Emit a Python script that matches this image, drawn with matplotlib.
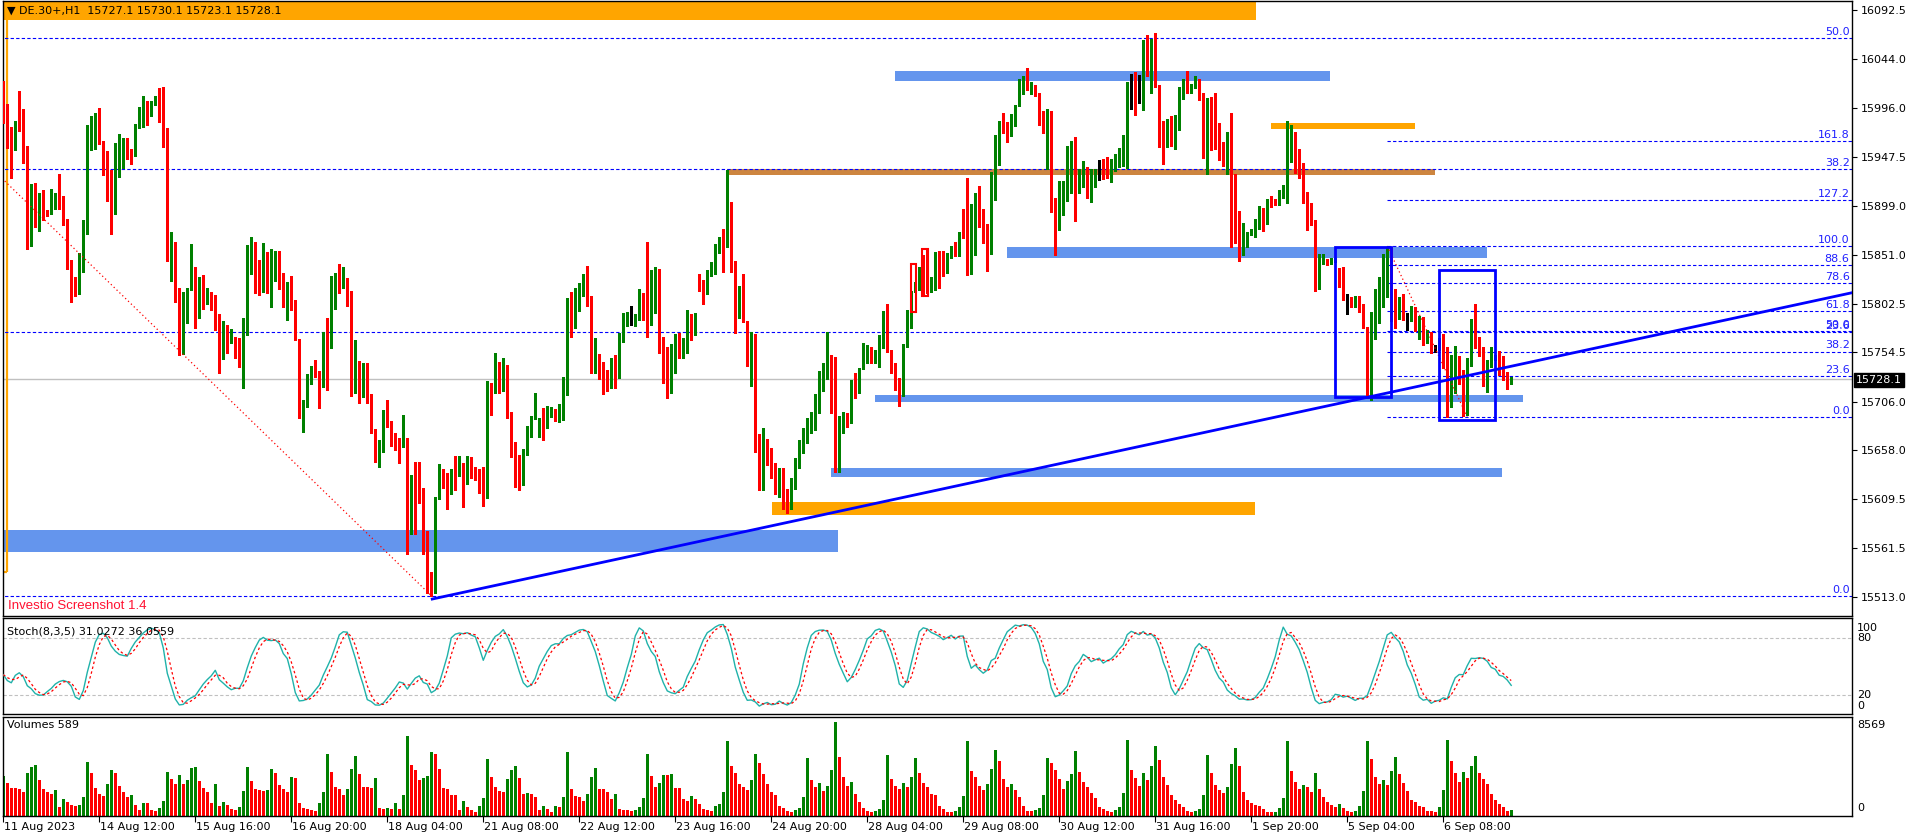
import numpy as np
import matplotlib
matplotlib.use("Agg")
import matplotlib.pyplot as plt
from matplotlib.patches import Rectangle

plt.rcParams['font.family'] = ['DejaVu Sans']

# ---------------- data ----------------
symbol_text = "\u25BC DE.30+,H1  15727.1 15730.1 15723.1 15728.1"
stoch_text = "Stoch(8,3,5) 31.0272 36.0559"
volume_text = "Volumes 589"
watermark = "Investio Screenshot 1.4"

time_labels = ["11 Aug 2023", "14 Aug 12:00", "15 Aug 16:00", "16 Aug 20:00", "18 Aug 04:00",
               "21 Aug 08:00", "22 Aug 12:00", "23 Aug 16:00", "24 Aug 20:00", "28 Aug 04:00",
               "29 Aug 08:00", "30 Aug 12:00", "31 Aug 16:00", "1 Sep 20:00", "5 Sep 04:00",
               "6 Sep 08:00"]
bars_per_label = 24

price_ticks = [16092.5, 16044.0, 15996.0, 15947.5, 15899.0, 15851.0, 15802.5,
               15754.5, 15706.0, 15658.0, 15609.5, 15561.5, 15513.0]
last_price = 15728.1
vol_max_label = 8569

first_open = 16012.7
closes = [
    15998.2, 15977.4, 15955.6, 15981.6, 15976.4, 15948.7, 15864.9, 15887.4, 15893.6, 15907.8,
    15892.6, 15891.8, 15906.1, 15911.3, 15899.5, 15882.2, 15843.1, 15828.5, 15812.6, 15841.0,
    15878.4, 15962.2, 15971.2, 15973.9, 15961.5, 15944.5, 15934.5, 15903.3, 15951.4, 15957.3,
    15959.4, 15952.5, 15951.1, 15979.1, 15985.0, 15999.9, 15987.8, 15999.9, 16003.7, 15996.8,
    15957.3, 15848.6, 15863.1, 15812.9, 15782.8, 15786.6, 15818.1, 15834.7, 15788.7, 15827.1,
    15806.3, 15807.7, 15805.3, 15787.6, 15758.2, 15766.2, 15765.1, 15767.6, 15753.0, 15744.7,
    15784.2, 15834.0, 15845.8, 15832.7, 15831.3, 15849.7, 15818.4, 15842.4, 15849.7, 15825.0,
    15810.5, 15815.0, 15805.6, 15767.7, 15697.0, 15706.6, 15730.6, 15740.1, 15734.5, 15722.3,
    15772.7, 15765.0, 15803.3, 15826.0, 15822.0, 15828.3, 15811.0, 15724.3, 15743.0, 15719.7,
    15742.4, 15711.8, 15678.3, 15657.5, 15658.2, 15695.0, 15683.9, 15672.0, 15668.0, 15661.5,
    15669.7, 15581.5, 15631.9, 15630.9, 15616.0, 15561.1, 15538.1, 15528.2, 15611.1, 15631.9,
    15627.0, 15621.0, 15629.6, 15622.6, 15645.0, 15627.6, 15646.0, 15635.8, 15629.2, 15621.0,
    15618.7, 15723.3, 15720.7, 15737.8, 15719.7, 15736.0, 15696.0, 15666.4, 15644.4, 15625.3,
    15659.2, 15674.6, 15689.5, 15694.4, 15687.8, 15683.9, 15695.4, 15698.3, 15692.0, 15700.3,
    15728.9, 15793.0, 15792.4, 15796.4, 15811.2, 15825.0, 15807.2, 15740.5, 15747.0, 15734.5,
    15733.9, 15726.3, 15742.1, 15730.6, 15770.0, 15785.5, 15788.2, 15787.9, 15791.4, 15812.8,
    15793.8, 15784.2, 15805.3, 15823.4, 15769.0, 15752.0, 15719.7, 15751.0, 15770.0, 15755.3,
    15757.9, 15790.8, 15776.6, 15781.6, 15818.4, 15813.5, 15834.9, 15835.9, 15860.5, 15866.5,
    15859.5, 15875.3, 15836.8, 15792.4, 15809.5, 15785.5, 15760.2, 15771.0, 15672.3, 15620.4,
    15664.1, 15657.5, 15640.0, 15625.0, 15634.0, 15615.0, 15606.0, 15622.0, 15640.0, 15655.0,
    15668.0, 15680.0, 15688.5, 15695.4, 15722.4, 15729.0, 15751.0, 15706.6, 15660.0, 15685.0,
    15690.0, 15688.0, 15725.7, 15717.5, 15738.9, 15754.3, 15758.6, 15745.5, 15747.7, 15770.1,
    15780.0, 15755.3, 15741.2, 15726.7, 15711.9, 15760.9, 15779.3, 15814.5, 15822.8, 15831.0,
    15827.7, 15819.5, 15826.0, 15845.8, 15843.5, 15833.3, 15851.7, 15855.7, 15850.7, 15872.8,
    15867.8, 15836.9, 15854.7, 15906.0, 15884.6, 15871.5, 15859.6, 15906.7, 15943.5, 15980.7,
    15974.1, 15969.2, 15983.3, 15998.1, 16013.6, 16023.5, 16014.6, 16018.5, 16008.6, 15993.2,
    15978.0, 15980.0, 15896.1, 15875.4, 15906.0, 15912.6, 15952.1, 15961.0, 15923.1, 15925.7,
    15937.3, 15915.5, 15930.7, 15933.0, 15933.2, 15929.0, 15928.0, 15934.6, 15943.5, 15950.4,
    15951.4, 16018.5, 16018.7, 16008.6, 16008.4, 16051.4, 16038.3, 16059.6, 16017.5, 15980.0,
    15962.6, 15972.5, 15959.3, 15974.1, 16007.0, 16020.8, 16013.6, 16015.9, 16021.8, 16008.6,
    15976.4, 16002.0, 15966.5, 15957.6, 15953.7, 15943.5, 15957.6, 15887.6, 15882.6, 15858.3,
    15870.5, 15872.1, 15875.4, 15885.3, 15896.1, 15882.0, 15905.0, 15902.7, 15902.4, 15911.6,
    15914.9, 15954.4, 15962.6, 15939.5, 15934.6, 15912.2, 15895.1, 15884.6, 15818.5, 15841.8,
    15845.8, 15842.5, 15844.8, 15846.4, 15820.4, 15809.6, 15809.4, 15800.7, 15808.0, 15799.7,
    15780.0, 15749.4, 15780.0, 15799.7, 15812.9, 15839.2, 15856.3, 15814.5, 15796.4, 15803.0,
    15789.9, 15790.1, 15799.0, 15777.7, 15786.6, 15764.2, 15774.0, 15757.9, 15758.1, 15768.5,
    15749.4, 15707.6, 15743.8, 15746.1, 15734.6, 15708.6, 15741.2, 15776.7, 15760.2, 15755.3,
    15723.4, 15742.8, 15749.4, 15751.0, 15734.6, 15731.3, 15727.1, 15728.1]
highs = [
    16022.4, 15999.9, 15977.4, 15982.6, 16012.7, 15994.7, 15958.4, 15920.6, 15921.3, 15911.6,
    15915.1, 15895.0, 15915.8, 15912.3, 15930.7, 15908.8, 15886.3, 15845.8, 15828.5, 15852.7,
    15885.3, 15979.1, 15987.8, 15990.6, 15995.8, 15962.9, 15953.2, 15934.1, 15960.8, 15970.5,
    15966.3, 15966.3, 15954.9, 15979.5, 15996.4, 16007.5, 16002.7, 16002.3, 16007.9, 16015.5,
    16016.5, 15975.7, 15873.5, 15863.1, 15818.1, 15814.6, 15818.5, 15861.4, 15838.9, 15829.2,
    15830.9, 15818.1, 15814.6, 15811.2, 15792.1, 15785.2, 15781.8, 15777.6, 15769.6, 15768.9,
    15788.7, 15860.7, 15868.3, 15863.1, 15845.8, 15862.0, 15854.0, 15857.0, 15854.6, 15855.0,
    15833.0, 15823.7, 15830.0, 15806.0, 15768.0, 15707.0, 15733.0, 15741.0, 15747.0, 15736.0,
    15775.0, 15788.0, 15830.0, 15833.0, 15841.4, 15838.8, 15827.0, 15815.0, 15766.8, 15746.0,
    15743.7, 15743.7, 15713.5, 15679.0, 15668.0, 15697.7, 15707.5, 15687.0, 15674.6, 15670.4,
    15692.7, 15670.0, 15633.5, 15646.7, 15646.0, 15621.0, 15578.2, 15538.0, 15612.0, 15644.4,
    15639.4, 15635.2, 15639.4, 15652.6, 15652.6, 15645.7, 15652.6, 15651.0, 15641.0, 15639.4,
    15641.0, 15726.3, 15724.0, 15753.6, 15744.7, 15749.3, 15742.0, 15696.0, 15666.0, 15653.3,
    15659.5, 15681.9, 15692.0, 15714.0, 15690.0, 15700.0, 15701.6, 15701.0, 15698.0, 15703.6,
    15730.6, 15807.9, 15813.8, 15817.8, 15822.7, 15831.6, 15839.8, 15810.5, 15768.4, 15752.9,
    15745.4, 15737.2, 15748.7, 15752.0, 15773.3, 15793.0, 15794.0, 15800.3, 15792.0, 15817.0,
    15813.0, 15863.2, 15835.9, 15839.2, 15836.8, 15770.0, 15760.2, 15762.5, 15772.7, 15774.0,
    15769.0, 15796.4, 15792.0, 15793.7, 15831.6, 15826.0, 15835.9, 15843.4, 15861.2, 15868.0,
    15876.0, 15934.6, 15903.3, 15844.7, 15820.0, 15831.6, 15785.5, 15775.0, 15772.7, 15674.0,
    15680.2, 15669.0, 15660.0, 15645.0, 15640.0, 15640.0, 15620.0, 15630.0, 15650.0, 15668.0,
    15680.0, 15690.0, 15696.0, 15713.0, 15736.2, 15744.5, 15774.4, 15752.0, 15749.7, 15692.0,
    15696.0, 15695.0, 15727.4, 15734.6, 15739.5, 15764.2, 15761.9, 15760.2, 15756.9, 15771.8,
    15795.5, 15802.4, 15756.9, 15743.8, 15729.0, 15762.6, 15796.4, 15815.0, 15823.5, 15839.2,
    15850.7, 15855.7, 15829.3, 15854.0, 15855.0, 15855.0, 15853.0, 15859.6, 15863.2, 15873.8,
    15896.1, 15926.4, 15901.0, 15912.3, 15919.0, 15896.0, 15881.0, 15933.0, 15969.2, 15983.0,
    15990.5, 15982.3, 15989.9, 15998.8, 16024.4, 16027.4, 16035.6, 16021.1, 16018.5, 16010.3,
    15993.2, 15994.8, 15992.9, 15906.7, 15923.8, 15923.8, 15958.3, 15963.3, 15967.5, 15935.3,
    15943.5, 15936.9, 15935.3, 15935.3, 15944.5, 15945.1, 15947.8, 15945.5, 15950.4, 15956.7,
    15969.2, 16021.8, 16029.4, 16031.0, 16028.4, 16062.9, 16067.9, 16063.9, 16069.5, 16018.0,
    15983.3, 15984.6, 15987.9, 15988.9, 16016.9, 16024.4, 16032.7, 16019.2, 16027.4, 16024.4,
    16011.0, 16005.4, 16007.0, 16011.0, 15980.7, 15962.6, 15972.5, 15991.2, 15930.7, 15894.2,
    15882.6, 15873.8, 15876.0, 15886.0, 15899.0, 15896.8, 15906.0, 15909.0, 15906.0, 15914.9,
    15919.8, 15983.0, 15979.0, 15971.8, 15955.0, 15941.2, 15913.2, 15901.7, 15885.3, 15851.7,
    15851.7, 15846.4, 15848.0, 15847.4, 15837.6, 15839.2, 15811.9, 15809.6, 15810.2, 15810.2,
    15802.0, 15780.0, 15794.8, 15816.8, 15829.3, 15851.7, 15859.0, 15859.0, 15816.8, 15808.9,
    15811.9, 15793.1, 15800.4, 15799.7, 15790.5, 15789.2, 15776.7, 15775.0, 15761.9, 15769.1,
    15772.7, 15760.2, 15752.0, 15760.9, 15751.0, 15737.2, 15748.7, 15787.5, 15802.4, 15769.5,
    15760.2, 15747.1, 15760.2, 15752.0, 15756.0, 15751.0, 15735.6, 15730.1]
lows = [
    15980.9, 15956.6, 15926.2, 15954.5, 15972.6, 15941.1, 15856.9, 15859.3, 15878.7, 15874.6,
    15885.6, 15889.0, 15891.5, 15896.0, 15896.0, 15880.4, 15836.8, 15804.3, 15810.5, 15813.6,
    15834.0, 15871.8, 15953.9, 15954.9, 15960.1, 15930.0, 15903.6, 15871.8, 15891.5, 15927.2,
    15936.9, 15945.5, 15940.0, 15948.7, 15976.0, 15976.7, 15979.1, 15987.8, 15998.9, 15981.6,
    15957.0, 15844.8, 15825.0, 15804.3, 15752.3, 15753.0, 15783.5, 15816.4, 15779.0, 15788.0,
    15797.3, 15801.8, 15796.6, 15776.6, 15734.0, 15748.2, 15753.7, 15763.4, 15748.9, 15740.2,
    15719.4, 15772.1, 15832.0, 15812.9, 15811.2, 15814.0, 15813.0, 15799.0, 15825.0, 15817.0,
    15799.0, 15786.8, 15796.0, 15766.7, 15690.1, 15676.3, 15701.0, 15723.0, 15730.6, 15700.0,
    15720.7, 15717.0, 15759.0, 15797.0, 15812.8, 15818.4, 15800.6, 15711.5, 15714.4, 15704.9,
    15710.8, 15704.9, 15674.6, 15646.0, 15641.7, 15656.6, 15681.0, 15662.4, 15658.2, 15645.0,
    15661.5, 15555.2, 15574.9, 15574.9, 15606.2, 15555.2, 15516.7, 15514.1, 15517.4, 15609.5,
    15621.0, 15599.6, 15614.4, 15618.7, 15632.8, 15602.0, 15624.3, 15630.2, 15628.6, 15616.0,
    15603.2, 15610.5, 15692.7, 15714.0, 15714.0, 15716.7, 15689.4, 15651.6, 15622.0, 15618.7,
    15623.7, 15653.3, 15671.4, 15689.0, 15671.0, 15668.0, 15680.0, 15691.0, 15687.0, 15686.2,
    15687.8, 15712.5, 15770.0, 15779.0, 15795.0, 15810.0, 15800.7, 15734.5, 15734.5, 15728.0,
    15713.1, 15716.8, 15719.0, 15719.0, 15729.0, 15765.0, 15780.6, 15781.6, 15781.0, 15786.5,
    15786.5, 15770.0, 15781.6, 15793.0, 15754.0, 15724.6, 15709.8, 15714.8, 15734.5, 15749.3,
    15749.3, 15754.3, 15766.8, 15771.7, 15815.0, 15802.3, 15812.0, 15830.0, 15831.9, 15853.0,
    15834.0, 15859.0, 15834.2, 15774.0, 15788.0, 15784.9, 15741.0, 15721.4, 15656.6, 15618.7,
    15618.7, 15643.4, 15630.0, 15615.0, 15612.0, 15600.0, 15596.0, 15600.0, 15620.0, 15640.0,
    15655.0, 15665.0, 15675.0, 15678.0, 15695.0, 15716.5, 15728.0, 15695.0, 15636.0, 15636.0,
    15675.0, 15681.3, 15684.6, 15709.9, 15714.8, 15738.0, 15743.8, 15743.8, 15743.8, 15740.5,
    15759.3, 15755.0, 15734.6, 15717.5, 15702.0, 15711.9, 15759.6, 15778.3, 15814.0, 15816.0,
    15811.2, 15812.9, 15814.5, 15816.0, 15818.5, 15830.0, 15833.0, 15848.0, 15849.7, 15850.0,
    15867.0, 15831.0, 15832.0, 15850.7, 15878.7, 15862.9, 15835.3, 15851.7, 15905.0, 15939.6,
    15970.8, 15962.6, 15968.2, 15978.0, 15998.0, 16009.3, 16013.6, 16009.3, 16007.7, 15979.0,
    15971.5, 15935.3, 15893.5, 15850.7, 15875.0, 15890.2, 15904.4, 15912.0, 15884.3, 15912.0,
    15918.2, 15907.3, 15903.4, 15918.2, 15924.8, 15925.4, 15927.0, 15923.1, 15934.0, 15937.9,
    15938.6, 15936.9, 15994.8, 15988.9, 16001.1, 15993.8, 16027.4, 16011.0, 16016.9, 15957.6,
    15940.5, 15957.6, 15958.3, 15955.3, 15974.0, 16004.4, 16011.0, 16011.0, 16015.2, 16003.7,
    15946.8, 15930.7, 15954.4, 15955.0, 15944.5, 15938.6, 15930.7, 15858.9, 15862.2, 15845.1,
    15850.7, 15858.9, 15870.0, 15868.2, 15876.4, 15874.7, 15881.0, 15897.8, 15900.1, 15900.0,
    15906.6, 15901.7, 15942.8, 15932.0, 15926.4, 15901.7, 15875.4, 15880.3, 15815.5, 15816.8,
    15841.5, 15840.8, 15841.5, 15844.1, 15818.8, 15806.3, 15792.2, 15799.7, 15799.0, 15794.1,
    15778.3, 15709.9, 15707.6, 15767.8, 15784.0, 15799.7, 15809.6, 15785.6, 15778.3, 15787.5,
    15786.6, 15776.7, 15785.9, 15776.0, 15767.8, 15761.9, 15764.0, 15753.7, 15755.3, 15757.0,
    15739.5, 15690.5, 15701.0, 15714.2, 15723.4, 15691.8, 15692.8, 15741.0, 15758.6, 15751.0,
    15721.7, 15715.8, 15740.5, 15747.0, 15732.3, 15727.3, 15718.1, 15723.1]
# bars whose open differs from the previous close
gap_opens = {8: 15897.8, 14: 15923.7, 74: 15757.9, 78: 15739.5, 81: 15770.7, 94: 15646.0,
             114: 15639.1, 126: 15742.1, 134: 15684.5, 135: 15686.8, 174: 15829.9, 180: 15864.5,
             185: 15808.5, 221: 15781.6, 240: 15872.1, 241: 15872.1, 246: 15873.4, 250: 15980.0,
             251: 15975.0, 268: 15960.0, 275: 15932.0, 276: 15930.7, 283: 16020.8, 288: 16059.0,
             292: 15971.5, 294: 15983.3, 296: 16021.8, 299: 16022.5, 301: 15973.1, 302: 16001.0,
             303: 15967.5, 304: 15959.3, 307: 15959.3, 308: 15890.2, 315: 15895.1, 318: 15905.0,
             325: 15936.3, 328: 15885.3, 331: 15844.8, 334: 15836.9, 335: 15821.1, 337: 15808.6,
             339: 15808.0, 340: 15801.4, 347: 15858.3, 350: 15802.4, 355: 15787.2, 365: 15735.6,
             368: 15775.7, 369: 15761.9, 370: 15756.0, 374: 15756.0, 375: 15735.6, 376: 15733.9,
             377: 15727.1}

volumes = [
    3616, 2976, 2560, 2560, 2432, 2176, 3936, 4480, 4672, 3296,
    2432, 2176, 2016, 2336, 800, 1536, 1280, 960, 896, 960,
    1696, 4896, 3936, 2560, 2016, 1856, 2880, 4160, 3936, 2752,
    2176, 1760, 1920, 960, 576, 1152, 1152, 576, 416, 736,
    1376, 4032, 3392, 2880, 3712, 2880, 3296, 4352, 4480, 3232,
    2560, 2176, 1216, 2880, 896, 1312, 960, 640, 576, 832,
    2272, 4480, 3200, 2432, 2336, 2272, 2336, 4256, 3936, 2816,
    2432, 2176, 3520, 3456, 1216, 736, 640, 512, 416, 1152,
    2176, 5696, 4032, 2656, 2432, 1920, 2496, 4320, 5472, 3840,
    2656, 2656, 2560, 3456, 736, 640, 736, 640, 1216, 640,
    1920, 7296, 4640, 4160, 3296, 3456, 3616, 5792, 5696, 4256,
    2560, 2432, 1920, 1920, 576, 1376, 800, 512, 320, 896,
    1632, 5216, 3552, 2656, 2272, 2176, 3392, 4160, 4576, 3456,
    2016, 2112, 2016, 1696, 576, 896, 640, 352, 896, 800,
    1760, 5856, 2496, 1792, 1696, 1376, 2016, 3552, 4416, 2496,
    2432, 2176, 1536, 2016, 640, 576, 512, 416, 576, 800,
    1600, 5696, 3616, 2656, 2976, 3776, 3712, 3840, 2560, 2560,
    1536, 1376, 1792, 1536, 1100, 640,
    560, 480, 900, 1100, 2200, 6800, 4600, 3900, 2900, 2600,
    2400, 3300, 5650, 4800, 3800, 2900, 2200, 1900, 900, 700,
    420, 380, 560, 700, 1700, 5300, 3300, 2600, 3000, 2300,
    2700, 4200, 8569, 5400, 3600, 2700, 3100, 2000, 1300, 700,
    450, 380, 420, 650, 1500, 5600, 3400, 2700, 2500, 3000,
    2600, 3600, 5300, 3900, 3000, 2600, 2000, 1900, 900, 600,
    380, 330, 450, 800, 1800, 6800, 4100, 3600, 2700, 2400,
    2900, 4300, 6000, 5000, 3400, 2600, 2900, 2400, 1700, 900,
    500, 420, 520, 700, 1900, 5300, 4800, 4200, 3400, 2500,
    3200, 3800, 5900, 4000, 3100, 2600, 2100, 1600, 800, 600,
    450, 400, 550, 800, 2100, 6900, 4200, 3500, 2700, 3900,
    3300, 4600, 6400, 5100, 3600, 2800, 1900, 1500, 1100, 800,
    450, 380, 420, 650, 1900, 5600, 3900, 2800, 2400, 2100,
    2600, 4700, 6200, 4600, 2200, 1500, 1200, 1000, 900, 600,
    380, 320, 400, 700, 1600, 6800, 4100, 3100, 2500, 2800,
    2600, 2200, 3900, 2500, 1700, 1300, 1000, 800, 1100, 700,
    420, 380, 500, 900, 2300, 6800, 5200, 3600, 2900, 3300,
    2800, 4100, 5400, 3800, 3000, 2300, 1500, 1300, 900, 800,
    500, 450, 380, 800, 2400, 6900, 5000, 3900, 3100, 4000,
    3500, 4600, 5500, 3900, 3400, 2900, 2000, 1500, 1100, 800,
    500, 589]

# drawn objects (bar index / price)
fib_a = (15514.3, 16616.0, [0.0, 23.6, 38.2, 50.0])          # 0%, 100%, levels
fib_a_line = ((-180, 16616.0), (107, 15514.3))
fib_b = (15691.0, 15859.5, [0.0, 23.6, 38.2, 50.0, 61.8, 78.6, 88.6, 100.0, 127.2, 161.8])
fib_b_start = 345.9
fib_b_line = ((346, 15859.5), (366, 15691.0))
trend_line = ((106.9, 15510.7), (462.2, 15813.4))
blue_zones = [(222.9, 331.7, 16022.7, 16032.3), (250.9, 370.9, 15848.0, 15858.8),
              (217.9, 379.9, 15705.8, 15712.4), (206.9, 374.7, 15631.9, 15640.4),
              (-1.0, 208.7, 15557.7, 15579.1)]
orange_zones = [(316.9, 352.9, 15975.0, 15981.2), (192.2, 312.9, 15594.4, 15606.8),
                (-1.0, 313.2, 16082.6, 16110.0)]
brown_zones = [(181.0, 357.9, 15929.6, 15935.2)]
blue_boxes = [(332.9, 346.9, 15710.7, 15858.8), (358.9, 372.9, 15687.7, 15835.8)]
red_boxes = [(226.85, 228.1, 15794.7, 15841.4), (229.75, 231.1, 15810.4, 15856.5)]
orange_frame = (0.925, 15537.7, 16082.6)

# ---------------- derived series ----------------
c = np.array(closes, float)
h = np.array(highs, float)
l = np.array(lows, float)
N = len(c)
o = np.empty(N)
o[0] = first_open
o[1:] = c[:-1]
for k, v in gap_opens.items():
    if k < N:
        o[k] = v
h = np.maximum(h, np.maximum(o, c))
l = np.minimum(l, np.minimum(o, c))
x = np.arange(N)


def stochastic(hi, lo, cl, k=8, d=3, slow=5):
    n = len(cl)
    ll = np.array([lo[max(0, i - k + 1):i + 1].min() for i in range(n)])
    hh = np.array([hi[max(0, i - k + 1):i + 1].max() for i in range(n)])
    num = cl - ll
    den = hh - ll
    main = np.array([num[max(0, i - slow + 1):i + 1].sum() /
                     max(den[max(0, i - slow + 1):i + 1].sum(), 1e-9) * 100 for i in range(n)])
    sig = np.array([main[max(0, i - d + 1):i + 1].mean() for i in range(n)])
    return main, sig


st_main, st_sig = stochastic(h, l, c)

# ---------------- figure ----------------
W, H = 1916, 840
fig = plt.figure(figsize=(W / 100, H / 100), dpi=100)
fig.patch.set_facecolor('white')


def rect(l_, t_, r_, b_):
    return [l_ / W, 1 - b_ / H, (r_ - l_) / W, (b_ - t_) / H]


ax = fig.add_axes(rect(2.8, 1, 1852, 616))
axs = fig.add_axes(rect(2.8, 618, 1852, 714))
axv = fig.add_axes(rect(2.8, 717, 1852, 816))

XMIN, XMAX = -0.125, 462.2
for a in (ax, axs, axv):
    a.set_xlim(XMIN, XMAX)
    a.set_facecolor('white')
    for s in a.spines.values():
        s.set_color('black')
        s.set_linewidth(1.0)
    a.tick_params(axis='x', bottom=False, labelbottom=False)

ax.set_ylim(15494.25, 16101.4)
axs.set_ylim(0.32, 101.37)
axv.set_ylim(0, 9025)

# right price axis
ax.yaxis.tick_right()
ax.set_yticks(price_ticks)
ax.set_yticklabels([f"{t:.1f}" for t in price_ticks])
ax.tick_params(axis='y', length=3.5, width=0.8, pad=3, labelsize=8, colors='black')
axs.set_yticks([])
axv.set_yticks([])

# background zones
for (x0, x1, y0, y1) in blue_zones:
    ax.add_patch(Rectangle((x0, y0), x1 - x0, y1 - y0, facecolor='#6495ED', edgecolor='none', zorder=1))
for (x0, x1, y0, y1) in orange_zones:
    ax.add_patch(Rectangle((x0, y0), x1 - x0, y1 - y0, facecolor='#FFA500', edgecolor='none', zorder=1))
for (x0, x1, y0, y1) in brown_zones:
    ax.add_patch(Rectangle((x0, y0), x1 - x0, y1 - y0, facecolor='#CD853F', edgecolor='none', zorder=1))

# orange frame at the left edge
fx, fy0, fy1 = orange_frame
ax.plot([fx, fx], [fy0, fy1], color='#FFA500', lw=1.6, zorder=2, solid_capstyle='butt')
ax.plot([XMIN - 1, fx], [fy0, fy0], color='#FFA500', lw=1.6, zorder=2, solid_capstyle='butt')

# current price line
ax.axhline(last_price, color='#C0C0C0', lw=1.0, zorder=1.5)

# fibonacci levels
fib_col = '#1f1fff'


def draw_fib(p0, p100, levels, xstart):
    for lv in levels:
        y = p0 + (p100 - p0) * lv / 100.0
        ax.plot([xstart, XMAX + 5], [y, y], color='#0000FF', lw=0.8, ls=(0, (3, 2)), zorder=2)
        ax.text(XMAX - 0.6, y + 1.0, f"{lv:.1f}", color=fib_col, fontsize=8,
                ha='right', va='bottom', zorder=6)


draw_fib(fib_a[0], fib_a[1], fib_a[2], XMIN - 1)
draw_fib(fib_b[0], fib_b[1], fib_b[2], fib_b_start)

for (p, q) in (fib_a_line, fib_b_line):
    ax.plot([p[0], q[0]], [p[1], q[1]], color='#FF0000', lw=0.9, ls=(0, (1, 2.2)), zorder=5)

# candles
diff = c - o
col = np.where(diff > 0.45, '#008000', np.where(diff < -0.45, '#FF0000', '#000000'))
ax.vlines(x, l, h, colors=col, lw=0.75, zorder=3, antialiased=False)
body = np.abs(diff)
bh = np.maximum(body, 0.9)
ax.bar(x, bh, bottom=np.minimum(o, c) - (bh - body) / 2, width=0.75, color=col,
       linewidth=0, zorder=4, antialiased=False)

# outlined boxes
for (x0, x1, y0, y1) in blue_boxes:
    ax.add_patch(Rectangle((x0, y0), x1 - x0, y1 - y0, facecolor='none', edgecolor='#0000FF',
                           lw=2.0, zorder=5))
for (x0, x1, y0, y1) in red_boxes:
    ax.add_patch(Rectangle((x0, y0), x1 - x0, y1 - y0, facecolor='none', edgecolor='#FF0000',
                           lw=1.5, zorder=5))

# trend line (ray)
(tx0, ty0), (tx1, ty1) = trend_line
slope = (ty1 - ty0) / (tx1 - tx0)
ax.plot([tx0, XMAX + 10], [ty0, ty0 + slope * (XMAX + 10 - tx0)], color='#0000FF', lw=2.0,
        zorder=6, solid_capstyle='butt')

# texts in main window
fig.text(7 / W, 1 - 10.5 / H, symbol_text, fontsize=8, color='black', ha='left', va='center')
fig.text(8 / W, 1 - 606 / H, watermark, fontsize=9.5, color='#FF1030', ha='left', va='center',
         family=['Liberation Sans', 'DejaVu Sans'])

# price label box
fig.text(1856 / W, 1 - 380.5 / H, f"{last_price:.1f}", fontsize=8, color='white', ha='left',
         va='center', bbox=dict(boxstyle='square,pad=0.18', fc='black', ec='black'))

# stochastic
axs.axhline(80, color='#C0C0C0', lw=0.8, ls=(0, (3, 2)))
axs.axhline(20, color='#C0C0C0', lw=0.8, ls=(0, (3, 2)))
axs.plot(x, st_main, color='#20B2AA', lw=1.0, zorder=3)
axs.plot(x, st_sig, color='#FF0000', lw=0.9, ls=(0, (2, 2)), zorder=3)
fig.text(7 / W, 1 - 631 / H, stoch_text, fontsize=8, color='black', ha='left', va='center')
for lab, py in (("100", 627.7), ("80", 638.3), ("20", 695.3), ("0", 706.0)):
    fig.text(1857 / W, 1 - py / H, lab, fontsize=8, color='black', ha='left', va='center')

# volumes
v = np.array(volumes, float)
nv = min(len(v), N)
vcol = ['#008000' if (i == 0 or v[i] > v[i - 1]) else '#FF0000' for i in range(nv)]
axv.vlines(np.arange(nv), 0, v[:nv], colors=vcol, lw=0.75, antialiased=False)
fig.text(7 / W, 1 - 725 / H, volume_text, fontsize=8, color='black', ha='left', va='center')
fig.text(1857 / W, 1 - 725 / H, str(vol_max_label), fontsize=8, color='black', ha='left', va='center')
fig.text(1857 / W, 1 - 808.3 / H, "0", fontsize=8, color='black', ha='left', va='center')

# time axis
tick_pos = [k * bars_per_label - 0.075 for k in range(len(time_labels))]
axv.set_xticks(tick_pos)
axv.tick_params(axis='x', bottom=True, length=4, width=0.8, labelbottom=False, direction='out')
for k, lab in enumerate(time_labels):
    px = 3.3 + 4 * k * bars_per_label
    fig.text((px + 1) / W, 1 - 827 / H, lab, fontsize=8, color='black', ha='left', va='center')

fig.savefig("out.png", dpi=100)
